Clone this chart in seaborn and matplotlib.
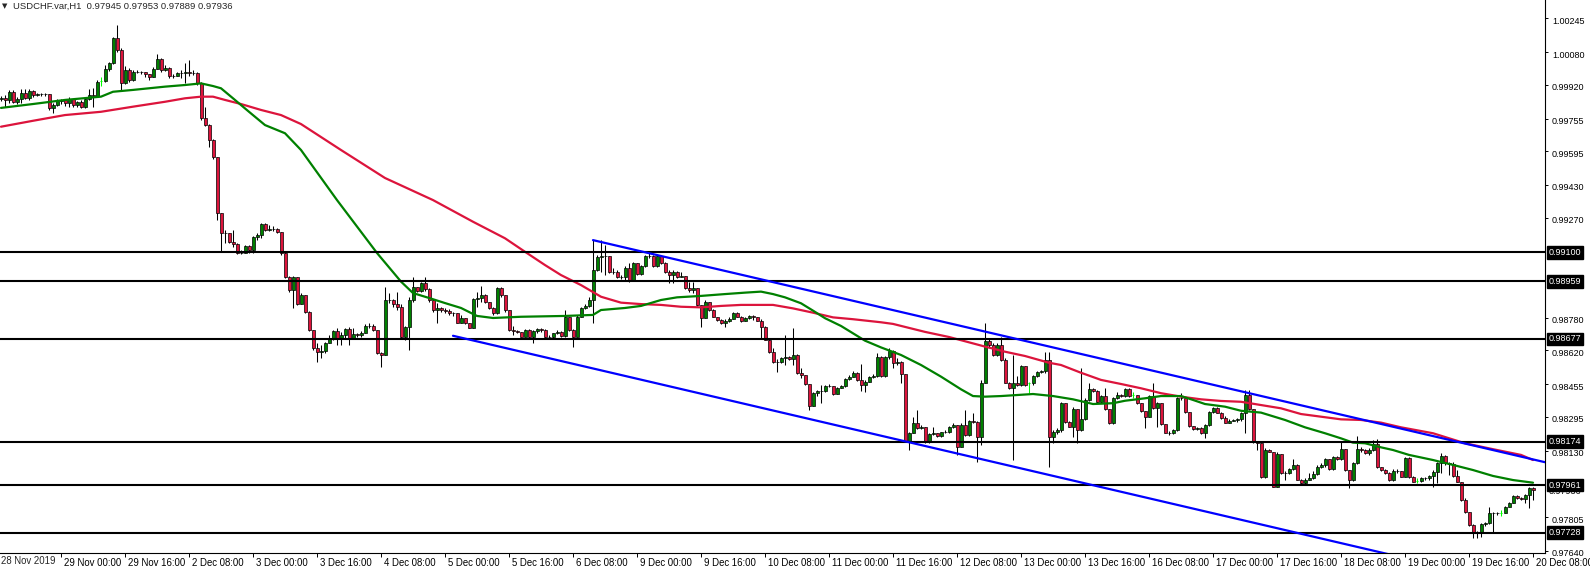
import numpy as np
import matplotlib
matplotlib.use("Agg")
import matplotlib.pyplot as plt
import matplotlib.transforms as mtransforms
import seaborn as sns

# USDCHF H1 bars, 28 Nov 09:00 -> 20 Dec 08:00 (prices in pips, 1 pip = 0.0001)
first_open = 9985.0
closes = [
    9985.4, 9984.6, 9988.3, 9983.8, 9985.1, 9987.8, 9985.7, 9989.0, 9987.0, 9987.3,
    9987.3, 9987.3, 9980.8, 9982.1, 9984.1, 9984.6, 9982.9, 9984.9, 9982.0, 9983.6,
    9981.0, 9984.9, 9987.0, 9986.5, 9993.5, 9993.9, 9999.6, 10002.8, 10014.7, 10009.0,
    9992.7, 9999.2, 9994.4, 9998.4, 9998.4, 9998.3, 9997.3, 9995.7, 9999.7, 10004.5,
    9999.2, 10000.4, 9996.3, 9996.3, 9997.6, 9997.9, 9998.1, 9997.9, 9997.9, 9993.1,
    9975.6, 9972.3, 9965.0, 9956.8, 9929.1, 9919.3, 9919.3, 9915.3, 9913.9, 9909.9,
    9909.9, 9913.1, 9911.2, 9917.4, 9918.5, 9923.9, 9921.0, 9921.3, 9921.3, 9920.1,
    9909.5, 9897.8, 9891.6, 9897.8, 9884.8, 9889.1, 9881.0, 9872.0, 9863.0, 9861.4,
    9861.9, 9865.8, 9868.2, 9871.5, 9868.2, 9869.5, 9872.3, 9867.9, 9870.0, 9869.7,
    9870.4, 9873.9, 9873.9, 9872.0, 9860.6, 9859.8, 9886.7, 9886.7, 9884.5, 9883.4,
    9868.7, 9873.6, 9886.7, 9893.2, 9891.2, 9894.8, 9891.9, 9886.7, 9881.8, 9882.6,
    9881.8, 9881.3, 9880.1, 9880.1, 9875.6, 9877.7, 9875.3, 9873.1, 9887.0, 9887.8,
    9889.1, 9885.9, 9882.6, 9880.1, 9892.4, 9889.1, 9881.8, 9872.0, 9871.5, 9871.2,
    9868.7, 9872.0, 9868.4, 9871.5, 9872.3, 9872.0, 9868.4, 9868.4, 9870.4, 9871.2,
    9869.1, 9878.5, 9872.0, 9868.7, 9878.5, 9882.6, 9883.7, 9886.7, 9901.3, 9907.5,
    9908.0, 9908.0, 9900.6, 9900.6, 9897.8, 9897.8, 9902.3, 9896.5, 9905.0, 9899.5,
    9903.1, 9908.0, 9908.3, 9903.1, 9908.0, 9905.0, 9900.6, 9899.0, 9900.6, 9898.2,
    9898.5, 9892.5, 9891.6, 9892.8, 9884.3, 9877.8, 9885.9, 9881.9, 9878.6, 9877.0,
    9875.3, 9876.2, 9877.5, 9880.2, 9878.6, 9876.2, 9878.1, 9878.9, 9878.6, 9876.5,
    9873.7, 9867.2, 9861.5, 9856.6, 9856.6, 9858.2, 9858.7, 9857.7, 9859.8, 9850.9,
    9850.1, 9845.5, 9834.9, 9841.1, 9842.4, 9842.4, 9844.8, 9844.8, 9840.6, 9843.5,
    9844.7, 9847.9, 9849.2, 9851.2, 9847.6, 9845.2, 9846.8, 9848.9, 9849.7, 9859.0,
    9849.5, 9858.6, 9861.9, 9855.7, 9856.5, 9850.5, 9817.9, 9821.8, 9826.4, 9823.9,
    9824.7, 9817.4, 9821.0, 9821.5, 9820.2, 9822.0, 9822.3, 9824.4, 9825.5, 9814.9,
    9825.5, 9820.6, 9827.7, 9827.2, 9819.5, 9846.3, 9866.8, 9864.7, 9859.8, 9864.7,
    9857.3, 9846.3, 9843.5, 9845.9, 9845.1, 9854.4, 9845.1, 9845.9, 9849.5, 9851.6,
    9852.1, 9857.3, 9819.8, 9822.3, 9823.1, 9836.1, 9827.2, 9824.7, 9833.2, 9823.1,
    9828.3, 9837.8, 9843.0, 9842.3, 9836.9, 9839.7, 9833.2, 9826.3, 9838.6, 9840.2,
    9839.7, 9843.0, 9839.7, 9840.2, 9836.1, 9832.5, 9829.3, 9839.7, 9833.7, 9836.1,
    9825.8, 9821.8, 9821.8, 9823.1, 9838.6, 9838.6, 9831.7, 9825.0, 9823.7, 9824.1,
    9821.8, 9825.5, 9831.7, 9833.7, 9831.6, 9828.8, 9826.7, 9827.7, 9828.0, 9828.4,
    9831.3, 9840.3, 9833.3, 9817.4, 9816.9, 9800.3, 9813.4, 9812.5, 9795.4, 9811.4,
    9801.9, 9801.9, 9804.1, 9806.0, 9798.7, 9797.0, 9798.7, 9799.8, 9801.6, 9805.2,
    9806.0, 9808.8, 9803.9, 9809.8, 9808.8, 9813.7, 9803.6, 9798.4, 9806.8, 9813.7,
    9813.4, 9811.7, 9813.4, 9816.3, 9804.9, 9803.6, 9801.9, 9798.4, 9803.2, 9803.1,
    9800.3, 9809.3, 9800.3, 9797.8, 9798.3, 9799.5, 9799.5, 9800.6, 9802.7, 9806.8,
    9810.4, 9806.8, 9806.5, 9800.6, 9797.8, 9788.9, 9783.2, 9776.6, 9772.9, 9772.9,
    9777.1, 9777.5, 9782.7, 9782.3, 9782.3, 9782.7, 9785.6, 9787.6, 9790.8, 9789.7,
    9789.5, 9791.3, 9794.6, 9793.6,
]
highs = [
    9986.5, 9987.0, 9989.5, 9989.5, 9986.2, 9989.8, 9989.8, 9989.8, 9989.5, 9987.8,
    9987.8, 9988.2, 9987.5, 9982.9, 9984.9, 9985.2, 9984.9, 9985.9, 9984.9, 9984.2,
    9984.6, 9985.9, 9989.8, 9990.3, 9994.4, 9995.7, 10001.7, 10003.3, 10015.2, 10021.3,
    10009.9, 10001.2, 10000.1, 9999.2, 9999.2, 9998.9, 9998.4, 9997.3, 10000.9, 10006.9,
    10005.0, 10001.5, 10000.9, 9997.3, 9998.4, 9999.2, 10002.5, 10004.1, 9999.2, 9998.4,
    9993.5, 9981.0, 9972.8, 9965.3, 9956.8, 9929.4, 9921.0, 9919.7, 9921.0, 9914.4,
    9911.2, 9913.6, 9913.6, 9918.0, 9919.3, 9924.5, 9924.5, 9923.4, 9922.9, 9921.8,
    9919.8, 9910.4, 9898.5, 9898.5, 9897.6, 9889.9, 9889.1, 9881.3, 9872.0, 9865.5,
    9864.7, 9866.3, 9869.5, 9872.0, 9872.8, 9871.2, 9872.8, 9873.3, 9872.8, 9870.4,
    9871.7, 9874.9, 9875.3, 9874.9, 9872.0, 9861.4, 9893.2, 9889.9, 9887.0, 9890.7,
    9884.5, 9873.9, 9888.3, 9898.1, 9893.2, 9895.6, 9898.1, 9892.4, 9887.0, 9885.0,
    9883.1, 9882.6, 9882.1, 9881.0, 9880.1, 9879.3, 9877.7, 9875.6, 9887.5, 9890.7,
    9893.5, 9889.6, 9885.9, 9883.1, 9892.9, 9893.2, 9889.1, 9881.8, 9873.9, 9872.0,
    9871.2, 9872.3, 9872.5, 9872.0, 9872.8, 9872.8, 9872.3, 9869.5, 9870.7, 9872.0,
    9871.5, 9881.8, 9878.5, 9872.3, 9879.3, 9883.4, 9884.7, 9888.0, 9916.0, 9908.7,
    9916.1, 9913.7, 9908.3, 9902.3, 9901.4, 9899.0, 9903.1, 9904.7, 9905.5, 9905.0,
    9903.9, 9908.8, 9909.6, 9908.8, 9908.8, 9908.3, 9905.5, 9901.4, 9901.4, 9901.1,
    9900.6, 9898.5, 9895.7, 9895.7, 9892.8, 9884.3, 9886.8, 9885.9, 9882.2, 9878.6,
    9877.3, 9877.3, 9878.3, 9881.0, 9880.6, 9878.9, 9878.6, 9879.4, 9879.4, 9877.8,
    9877.3, 9874.0, 9867.5, 9863.1, 9857.7, 9859.0, 9869.6, 9859.4, 9872.9, 9860.2,
    9853.3, 9850.1, 9845.5, 9841.9, 9842.7, 9845.2, 9845.2, 9845.5, 9844.8, 9844.3,
    9845.2, 9848.4, 9850.1, 9852.2, 9851.7, 9855.4, 9847.6, 9849.6, 9850.5, 9860.7,
    9859.3, 9859.3, 9863.1, 9862.2, 9858.2, 9856.9, 9850.5, 9822.3, 9829.6, 9832.9,
    9825.5, 9824.7, 9821.5, 9824.7, 9821.5, 9822.3, 9823.1, 9825.0, 9826.4, 9825.5,
    9826.4, 9832.9, 9828.0, 9831.2, 9827.7, 9847.6, 9875.3, 9867.5, 9865.5, 9865.5,
    9868.8, 9858.2, 9846.7, 9859.8, 9849.5, 9854.9, 9854.4, 9846.7, 9850.0, 9852.1,
    9852.4, 9861.4, 9861.4, 9823.1, 9823.9, 9836.9, 9836.1, 9827.5, 9834.2, 9833.2,
    9853.3, 9838.6, 9845.9, 9843.5, 9842.6, 9840.2, 9843.5, 9833.2, 9839.4, 9841.8,
    9840.7, 9843.5, 9843.5, 9841.8, 9840.2, 9836.1, 9832.5, 9840.2, 9845.9, 9836.9,
    9835.8, 9825.8, 9822.8, 9823.4, 9839.4, 9841.0, 9838.6, 9831.7, 9825.0, 9824.7,
    9824.4, 9826.0, 9832.5, 9834.5, 9834.2, 9832.0, 9829.7, 9828.4, 9828.7, 9828.9,
    9832.1, 9842.7, 9842.7, 9833.3, 9817.9, 9816.9, 9814.2, 9813.7, 9812.5, 9812.1,
    9811.4, 9802.8, 9804.7, 9808.8, 9806.5, 9799.0, 9799.5, 9801.9, 9802.8, 9806.0,
    9806.8, 9809.3, 9808.8, 9810.4, 9810.4, 9817.4, 9813.7, 9803.6, 9807.6, 9820.2,
    9814.7, 9813.7, 9814.2, 9818.2, 9818.7, 9805.2, 9803.9, 9802.3, 9803.9, 9803.9,
    9803.1, 9810.1, 9809.7, 9800.6, 9799.5, 9800.3, 9800.3, 9801.1, 9803.5, 9807.6,
    9812.0, 9810.9, 9807.6, 9807.6, 9803.5, 9797.8, 9789.7, 9783.2, 9777.1, 9773.9,
    9777.8, 9778.3, 9785.6, 9783.2, 9783.2, 9783.7, 9785.9, 9788.1, 9791.3, 9791.3,
    9790.5, 9791.8, 9795.1, 9795.3,
]
lows = [
    9984.2, 9981.0, 9983.3, 9982.9, 9982.6, 9982.9, 9984.9, 9984.6, 9986.2, 9986.5,
    9986.5, 9986.5, 9979.7, 9978.0, 9981.6, 9982.6, 9981.6, 9981.3, 9981.0, 9981.0,
    9980.5, 9980.5, 9984.6, 9981.3, 9986.2, 9991.4, 9993.5, 9998.9, 10002.2, 10008.2,
    9989.5, 9992.4, 9993.5, 9994.0, 9997.6, 9997.3, 9996.0, 9994.4, 9995.7, 9999.6,
    9998.4, 9998.9, 9995.2, 9995.2, 9996.3, 9995.2, 9992.7, 9996.3, 9996.8, 9991.9,
    9974.8, 9971.8, 9961.7, 9955.5, 9925.9, 9910.4, 9914.4, 9914.8, 9912.8, 9909.2,
    9909.2, 9909.9, 9909.9, 9909.5, 9916.1, 9916.9, 9920.6, 9920.6, 9920.6, 9919.3,
    9908.7, 9897.3, 9890.8, 9882.6, 9884.3, 9884.7, 9880.1, 9871.7, 9862.2, 9856.2,
    9858.1, 9860.9, 9865.5, 9867.1, 9864.7, 9864.7, 9867.4, 9864.7, 9867.4, 9868.7,
    9868.7, 9870.4, 9872.8, 9871.7, 9860.2, 9854.0, 9859.8, 9885.0, 9883.4, 9881.8,
    9867.9, 9867.1, 9862.2, 9885.9, 9890.7, 9890.7, 9891.2, 9885.9, 9881.0, 9875.3,
    9881.0, 9880.1, 9879.3, 9878.8, 9875.3, 9875.3, 9874.9, 9872.8, 9872.8, 9883.4,
    9885.9, 9885.4, 9882.1, 9879.3, 9879.8, 9888.3, 9881.0, 9871.7, 9869.5, 9870.4,
    9868.4, 9868.7, 9867.9, 9865.5, 9870.7, 9871.2, 9867.9, 9867.4, 9867.9, 9870.0,
    9868.7, 9868.7, 9871.7, 9863.8, 9868.4, 9878.2, 9882.1, 9883.4, 9875.3, 9901.0,
    9900.6, 9899.0, 9899.8, 9899.5, 9897.4, 9896.9, 9896.5, 9895.7, 9896.2, 9899.0,
    9899.0, 9902.7, 9907.1, 9902.7, 9902.7, 9904.4, 9900.1, 9894.9, 9894.9, 9897.4,
    9897.8, 9892.0, 9890.8, 9890.0, 9883.8, 9873.7, 9877.8, 9881.5, 9878.3, 9876.6,
    9875.0, 9873.7, 9875.7, 9877.3, 9878.3, 9875.7, 9876.2, 9877.3, 9877.0, 9876.2,
    9868.0, 9866.9, 9861.0, 9855.8, 9851.7, 9855.8, 9855.0, 9857.1, 9855.0, 9850.5,
    9848.4, 9845.2, 9832.9, 9834.9, 9839.9, 9836.2, 9841.9, 9844.3, 9840.3, 9840.6,
    9843.5, 9844.3, 9847.6, 9848.9, 9847.3, 9842.4, 9841.9, 9846.5, 9848.4, 9848.9,
    9848.9, 9848.9, 9857.7, 9853.3, 9854.9, 9846.3, 9817.4, 9813.3, 9821.5, 9823.4,
    9823.4, 9816.9, 9816.9, 9820.6, 9819.8, 9819.8, 9821.5, 9821.5, 9823.9, 9810.9,
    9814.6, 9820.2, 9820.2, 9826.4, 9807.6, 9815.8, 9845.9, 9863.9, 9859.3, 9859.3,
    9857.0, 9845.9, 9843.0, 9808.4, 9844.6, 9844.6, 9844.6, 9841.0, 9845.1, 9848.9,
    9851.1, 9850.8, 9805.1, 9816.6, 9821.1, 9822.3, 9826.7, 9824.4, 9819.8, 9816.6,
    9822.8, 9828.0, 9837.4, 9841.8, 9836.5, 9836.1, 9832.9, 9826.0, 9826.0, 9838.1,
    9839.1, 9839.1, 9839.4, 9838.6, 9835.8, 9832.0, 9823.9, 9829.3, 9833.2, 9824.7,
    9825.5, 9821.5, 9820.6, 9821.1, 9822.8, 9837.8, 9831.2, 9824.7, 9823.1, 9823.1,
    9821.1, 9819.0, 9825.0, 9831.2, 9831.2, 9828.3, 9826.4, 9826.4, 9827.4, 9827.2,
    9827.7, 9821.5, 9832.9, 9816.9, 9813.4, 9799.5, 9799.5, 9812.1, 9795.1, 9795.4,
    9801.6, 9798.7, 9801.6, 9803.6, 9798.4, 9796.2, 9796.7, 9798.4, 9799.0, 9801.1,
    9804.4, 9805.2, 9803.6, 9803.6, 9808.5, 9808.5, 9803.2, 9794.6, 9797.9, 9806.5,
    9812.5, 9811.4, 9810.9, 9813.0, 9804.4, 9803.2, 9801.6, 9797.9, 9797.9, 9801.9,
    9800.0, 9800.0, 9799.5, 9797.4, 9797.0, 9797.8, 9798.7, 9798.7, 9795.4, 9797.0,
    9801.9, 9806.0, 9801.1, 9800.0, 9797.4, 9788.5, 9782.7, 9776.1, 9770.1, 9770.1,
    9770.9, 9776.1, 9777.1, 9772.9, 9781.5, 9781.0, 9782.3, 9785.3, 9787.2, 9789.2,
    9788.9, 9787.6, 9784.8, 9788.9,
]
lime_bars = [25, 257, 283, 354, 375]

# moving averages (bar index, price in pips)
ma_fast_bars = [0, 8, 16, 25, 28, 33, 41, 46, 50, 53, 55, 58, 62, 66, 71, 75, 84, 94, 100, 103,
                107, 111, 115, 119, 123, 130, 141, 148, 150, 156, 160, 165, 169, 175, 181, 186, 190, 193, 196, 200,
                203, 206, 210, 213, 216, 220, 225, 230, 235, 240, 243, 246, 250, 254, 258, 263, 268, 273, 278, 281,
                286, 290, 295, 298, 301, 306, 310, 315, 321, 326, 331, 335, 338, 341, 345, 348, 352, 358, 363, 368,
                373, 378, 383]
ma_fast = [9980.7, 9982.6, 9984.6, 9986.2, 9988.6, 9989.5, 9991.1, 9991.9, 9992.7, 9991.4,
           9990.3, 9985.4, 9978.8, 9972.3, 9968.3, 9960.1, 9935.6, 9909.7, 9895.7, 9890.1,
           9887.7, 9885.2, 9882.8, 9878.9, 9877.9, 9878.5, 9878.9, 9879.4, 9881.8, 9882.8,
           9883.8, 9886.7, 9888.0, 9888.7, 9889.6, 9890.3, 9890.8, 9889.6, 9888.0, 9885.1,
           9881.5, 9877.8, 9874.0, 9870.4, 9866.8, 9863.5, 9859.8, 9854.9, 9849.2, 9843.0,
           9839.7, 9839.4, 9839.7, 9840.2, 9840.7, 9839.7, 9838.1, 9835.8, 9836.2, 9837.4,
           9838.6, 9839.7, 9839.7, 9837.8, 9835.8, 9834.5, 9832.5, 9831.6, 9828.0, 9824.4,
           9821.5, 9819.0, 9816.9, 9816.6, 9814.6, 9813.3, 9810.9, 9808.4, 9806.0, 9803.5,
           9800.6, 9798.6, 9797.3]
ma_slow_bars = [0, 8, 16, 25, 33, 41, 46, 50, 53, 56, 60, 65, 70, 75, 85, 96, 108, 118, 126, 131,
                136, 140, 145, 150, 155, 160, 165, 170, 175, 180, 185, 193, 198, 203, 208, 213, 220, 223, 231, 237,
                246, 251, 256, 262, 265, 270, 275, 280, 285, 290, 295, 300, 305, 310, 315, 320, 325, 330, 335, 340,
                345, 350, 358, 366, 373, 380, 383]
ma_slow = [9971.5, 9974.4, 9977.2, 9978.8, 9981.3, 9983.7, 9985.4, 9986.2, 9986.2, 9984.6,
           9982.6, 9979.7, 9977.2, 9972.8, 9960.1, 9946.4, 9935.6, 9925.0, 9916.9, 9910.3,
           9903.8, 9898.9, 9894.0, 9888.3, 9885.4, 9884.7, 9884.3, 9883.4, 9883.1, 9883.8,
           9884.3, 9884.3, 9882.6, 9880.5, 9878.2, 9877.3, 9875.8, 9875.0, 9871.1, 9868.6,
           9863.9, 9861.4, 9859.3, 9856.0, 9854.9, 9851.1, 9847.6, 9845.6, 9843.5, 9841.1,
           9839.4, 9838.1, 9837.3, 9836.9, 9835.3, 9833.7, 9830.9, 9829.6, 9828.3, 9828.0,
           9826.7, 9824.4, 9821.5, 9816.6, 9813.7, 9810.9, 9808.4]

# horizontal levels and the descending channel (anchors: bar index, price)
levels = [0.99100, 0.98959, 0.98677, 0.98174, 0.97961, 0.97728]
channel_top_bars = [148, 383]
channel_top = [0.99160, 0.98087]
channel_bot_bars = [113, 383]
channel_bot = [0.98692, 0.97458]

price_ticks = [1.00245, 1.00080, 0.99920, 0.99755, 0.99595, 0.99430, 0.99270,
               0.98780, 0.98620, 0.98455, 0.98295, 0.98130, 0.97805, 0.97640]
time_labels = ["29 Nov 00:00", "29 Nov 16:00", "2 Dec 08:00", "3 Dec 00:00", "3 Dec 16:00",
               "4 Dec 08:00", "5 Dec 00:00", "5 Dec 16:00", "6 Dec 08:00", "9 Dec 00:00",
               "9 Dec 16:00", "10 Dec 08:00", "11 Dec 00:00", "11 Dec 16:00", "12 Dec 08:00",
               "13 Dec 00:00", "13 Dec 16:00", "16 Dec 08:00", "17 Dec 00:00", "17 Dec 16:00",
               "18 Dec 08:00", "19 Dec 00:00", "19 Dec 16:00", "20 Dec 08:00"]
time_label_bars = [15 + 16 * i for i in range(len(time_labels))]
last_bar = (0.97945, 0.97953, 0.97889, 0.97936)

BULL = "#008000"
BEAR = "#dc143c"

sns.set_theme(style="white")
plt.rcParams["font.family"] = ["Liberation Sans", "DejaVu Sans"]
FS_X = 6.9
FS_Y = 6.5
FS_HEAD = 6.8

fig = plt.figure(figsize=(15.9, 5.7), dpi=100)
fig.patch.set_facecolor("white")
ax = fig.add_axes([0, 17 / 570, 1545 / 1590, 553 / 570])
ax.set_facecolor("white")

c = np.array(closes) / 1e4
o = np.concatenate([[first_open / 1e4], c[:-1]])
h = np.array(highs) / 1e4
l = np.array(lows) / 1e4
x = np.arange(len(c))
lime = np.isin(x, lime_bars)
top = np.maximum(np.maximum(o, c), h)
bot = np.minimum(np.minimum(o, c), l)

ax.vlines(x[~lime], bot[~lime], top[~lime], color="black", lw=0.75, zorder=2)
ax.vlines(x[lime], bot[lime], top[lime], color="#00ff00", lw=0.75, zorder=2)
ax.hlines(c[lime], x[lime] - 0.35, x[lime] + 0.35, color="#00ff00", lw=0.75, zorder=2)
up = (c > o) & ~lime
dn = (c <= o) & ~lime
ax.bar(x[up], (c - o)[up], bottom=o[up], width=0.75, color=BULL,
       edgecolor="black", linewidth=0.5, zorder=3)
ax.bar(x[dn], (o - c)[dn], bottom=c[dn], width=0.75, color=BEAR,
       edgecolor="black", linewidth=0.5, zorder=3)

sns.lineplot(x=ma_slow_bars, y=np.array(ma_slow) / 1e4, color="#dc143c", lw=1.6, ax=ax, zorder=4)
sns.lineplot(x=ma_fast_bars, y=np.array(ma_fast) / 1e4, color="#008000", lw=1.6, ax=ax, zorder=4)

for v in levels:
    ax.axhline(v, color="black", lw=1.5, zorder=5)

x_right = 386
for bars, vals in [(channel_top_bars, channel_top), (channel_bot_bars, channel_bot)]:
    slope = (vals[1] - vals[0]) / (bars[1] - bars[0])
    xs = [bars[0], x_right]
    ys = [vals[0], vals[0] + slope * (x_right - bars[0])]
    sns.lineplot(x=xs, y=ys, color="#0000ff", lw=1.6, ax=ax, zorder=6)

ax.set_xlim(-0.25, x_right)
ax.set_ylim(0.976290, 1.003350)

for s in ["left", "top"]:
    ax.spines[s].set_visible(False)
for s in ["right", "bottom"]:
    ax.spines[s].set_color("black")
    ax.spines[s].set_linewidth(0.8)

ax.yaxis.tick_right()
ax.set_yticks(price_ticks, [f"{v:.5f}" for v in price_ticks])
ax.tick_params(axis="y", direction="out", length=2.5, width=0.7, pad=2.5,
               labelsize=FS_Y, colors="black", right=True, left=False)
down = mtransforms.ScaledTranslation(0, -2 / 100, fig.dpi_scale_trans)
for lab in ax.get_yticklabels():
    lab.set_transform(lab.get_transform() + down)

ax.set_xticks(time_label_bars, time_labels)
ax.tick_params(axis="x", direction="out", length=3, width=0.7, pad=0.3,
               labelsize=FS_X, colors="black", bottom=True)
shift = mtransforms.ScaledTranslation(3 / 100, 0, fig.dpi_scale_trans)
for lab in ax.get_xticklabels():
    lab.set_ha("left")
    lab.set_transform(lab.get_transform() + shift)
ax.set_xlabel("")
ax.set_ylabel("")
ax.grid(False)

fig.text(1 / 1590, 1 - 561 / 570, "28 Nov 2019", fontsize=FS_X, ha="left", va="center")

# price labels on the right scale (the bid label sits partly under the 0.97961 box)
blend = mtransforms.blended_transform_factory(ax.transAxes, ax.transData)
ax.text(1.0 + 4 / 1545, last_bar[3] - 0.00004, f"{last_bar[3]:.5f}", transform=blend, fontsize=FS_Y,
        color="black", va="center", ha="left", clip_on=False, zorder=7)
for v in levels:
    ax.text(1.0 + 4 / 1545, v, f"{v:.5f}", transform=blend, fontsize=FS_Y, color="white",
            va="center", ha="left", clip_on=False, zorder=8,
            bbox=dict(facecolor="black", edgecolor="black", pad=1.3))

fig.text(2 / 1590, 1 - 6 / 570, "\u25bc", fontsize=5, ha="left", va="center",
         family=["DejaVu Sans"])
fig.text(13 / 1590, 1 - 6 / 570, "USDCHF.var,H1  " + " ".join(f"{v:.5f}" for v in last_bar),
         fontsize=FS_HEAD, ha="left", va="center")

fig.savefig("out.png", dpi=100, facecolor="white")
